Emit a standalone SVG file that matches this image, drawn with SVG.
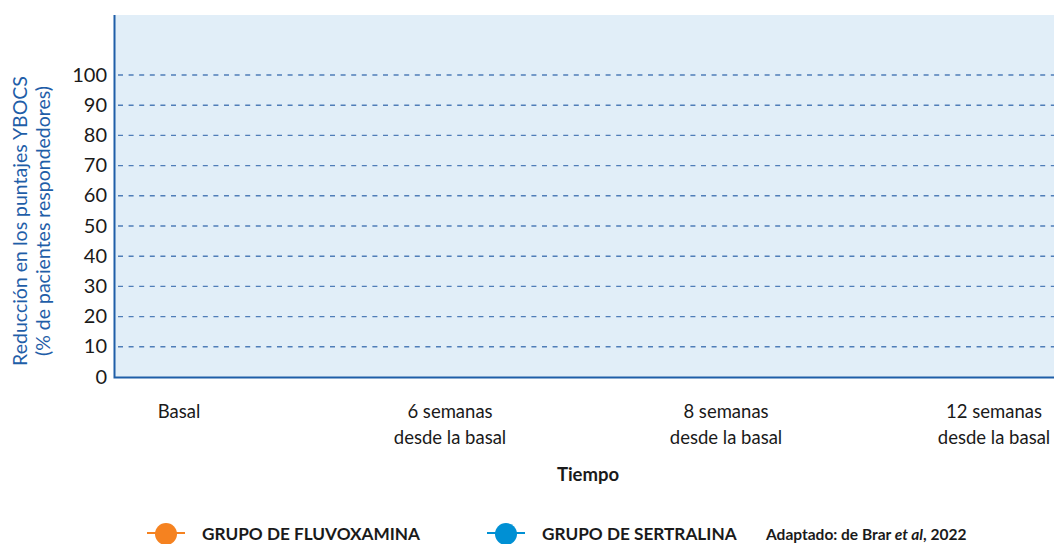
<svg xmlns="http://www.w3.org/2000/svg" width="1054" height="544" viewBox="0 0 1054 544">
<style>
text{font-family:"Lato","Noto Sans","Liberation Sans",sans-serif;fill:#1a1a1a}
.yt{font-size:20px;text-anchor:end}
.xl{font-size:18.5px;text-anchor:middle}
.grid{stroke:#4f7db8;stroke-width:1.4;stroke-dasharray:5 5.6}
.ttl{font-size:19.5px;fill:#1f5ea8;text-anchor:middle}
.leg{font-size:17.2px;font-weight:bold}
</style>
<rect width="1054" height="544" fill="#fff"/>
<g id="plot">
<rect x="114" y="15" width="940" height="362" fill="#e1eef8"/>
<g id="gridlines">
<line class="grid" x1="118" y1="75" x2="1054" y2="75"/>
<line class="grid" x1="118" y1="105.2" x2="1054" y2="105.2"/>
<line class="grid" x1="118" y1="135.4" x2="1054" y2="135.4"/>
<line class="grid" x1="118" y1="165.6" x2="1054" y2="165.6"/>
<line class="grid" x1="118" y1="195.8" x2="1054" y2="195.8"/>
<line class="grid" x1="118" y1="226" x2="1054" y2="226"/>
<line class="grid" x1="118" y1="256.2" x2="1054" y2="256.2"/>
<line class="grid" x1="118" y1="286.4" x2="1054" y2="286.4"/>
<line class="grid" x1="118" y1="316.6" x2="1054" y2="316.6"/>
<line class="grid" x1="118" y1="346.8" x2="1054" y2="346.8"/>
</g>
<path d="M114.5 15 V377.5 H1054" fill="none" stroke="#1f5ea8" stroke-width="2"/>
</g>
<g id="yticks">
<text class="yt" x="107" y="82">100</text>
<text class="yt" x="107" y="112">90</text>
<text class="yt" x="107" y="142">80</text>
<text class="yt" x="107" y="172">70</text>
<text class="yt" x="107" y="202">60</text>
<text class="yt" x="107" y="233">50</text>
<text class="yt" x="107" y="263">40</text>
<text class="yt" x="107" y="293">30</text>
<text class="yt" x="107" y="323">20</text>
<text class="yt" x="107" y="353">10</text>
<text class="yt" x="107" y="384">0</text>
</g>
<g id="ytitle" transform="translate(0,221) rotate(-90)">
<text class="ttl" x="0" y="27">Reducción en los puntajes YBOCS</text>
<text class="ttl" x="0" y="50">(% de pacientes respondedores)</text>
</g>
<g id="xlabels">
<text class="xl" x="179" y="418">Basal</text>
<text class="xl" x="450" y="418">6 semanas</text>
<text class="xl" x="450" y="444">desde la basal</text>
<text class="xl" x="726" y="418">8 semanas</text>
<text class="xl" x="726" y="444">desde la basal</text>
<text class="xl" x="994" y="418">12 semanas</text>
<text class="xl" x="994" y="444">desde la basal</text>
<text class="xl" x="588" y="481" font-weight="bold" font-size="15.5">Tiempo</text>
</g>
<g id="legend-fluvoxamina">
<line x1="147" y1="533" x2="185" y2="533" stroke="#f58220" stroke-width="2"/>
<circle cx="166" cy="534" r="11" fill="#f58220"/>
<text class="leg" x="202" y="540">GRUPO DE FLUVOXAMINA</text>
</g>
<g id="legend-sertralina">
<line x1="487" y1="533" x2="525" y2="533" stroke="#0090d4" stroke-width="2"/>
<circle cx="506" cy="534" r="11" fill="#0090d4"/>
<text class="leg" x="542" y="540">GRUPO DE SERTRALINA</text>
</g>
<g id="source">
<text x="766" y="540" font-size="15.5" font-weight="bold">Adaptado: de Brar <tspan font-style="italic">et al</tspan>, 2022</text>
</g>
</svg>
